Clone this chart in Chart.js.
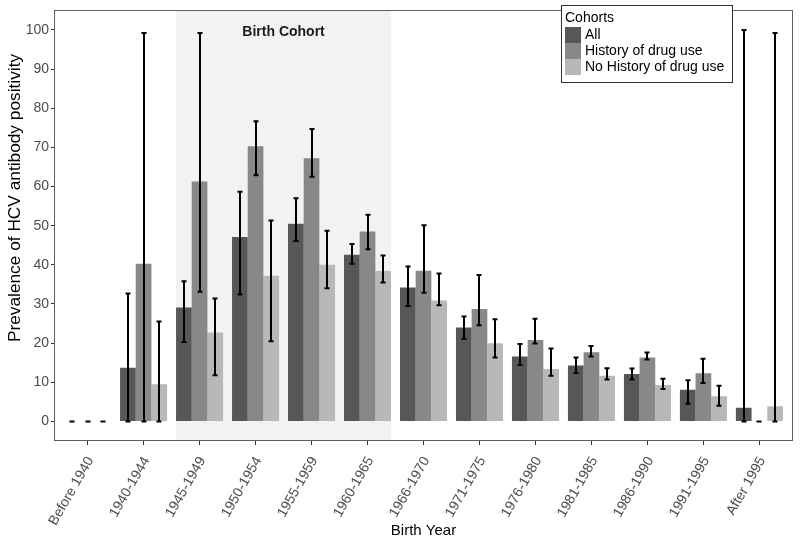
<!DOCTYPE html>
<html>
<head>
<meta charset="utf-8">
<script src="https://cdn.jsdelivr.net/npm/chart.js@4.4.1/dist/chart.umd.min.js"></script>
<style>
  html, body { margin: 0; padding: 0; background: #ffffff; }
  #wrap { width: 800px; height: 543px; }
</style>
</head>
<body>
<div id="wrap"><canvas id="c" width="800" height="543"></canvas></div>
<script>
// ---- data ----
const categories = ["Before 1940","1940-1944","1945-1949","1950-1954","1955-1959","1960-1965","1966-1970","1971-1975","1976-1980","1981-1985","1986-1990","1991-1995","After 1995"];
const seriesNames = ["All", "History of drug use", "No History of drug use"];

const allValues   = [0, 13.7, 29.1, 47.1, 50.5, 42.6, 34.2, 24.0, 16.6, 14.3, 12.1, 8.1, 3.5];
const allLow      = [0, 0,    20.3, 32.4, 46.1, 40.3, 29.5, 21.1, 14.4, 12.4, 10.7, 4.5, 0];
const allHigh     = [0, 32.7, 35.8, 58.7, 57.0, 45.3, 39.6, 26.8, 19.8, 16.3, 13.5, 10.5, 100];

const drugValues  = [0, 40.3, 61.3, 70.3, 67.2, 48.5, 38.5, 28.7, 20.8, 17.7, 16.3, 12.3, 0];
const drugLow     = [0, 0,    33.1, 62.9, 62.5, 44.0, 32.9, 24.6, 19.9, 16.6, 15.8, 9.8, 0];
const drugHigh    = [0, 99.2, 99.2, 76.7, 74.7, 52.8, 50.1, 37.4, 26.2, 19.3, 17.6, 16.0, 0];

const noDrugValues = [0, 9.5,  22.7, 37.2, 40.0, 38.4, 30.9, 20.0, 13.4, 11.7, 9.3, 6.4, 3.9];
const noDrugLow    = [0, 0,    11.8, 20.5, 34.0, 35.5, 29.7, 16.3, 11.7, 10.7, 8.3, 4.0, 0];
const noDrugHigh   = [0, 25.5, 31.4, 51.3, 48.7, 42.4, 37.8, 26.1, 18.6, 13.6, 10.9, 9.1, 99.2];

const yTickValues = [0, 10, 20, 30, 40, 50, 60, 70, 80, 90, 100];
const birthCohortFrom = "1945-1949";
const birthCohortTo = "1960-1965";
const birthCohortLabel = "Birth Cohort";
const legendTitle = "Cohorts";
const xTitle = "Birth Year";
const yTitle = "Prevalence of HCV antibody positivity";

// ---- styles ----
const colors = ["#575757", "#888888", "#b8b8b8"];
const FONT = "'Liberation Sans', Arial, Helvetica, sans-serif";
const groupFrac = 0.84;

const lows = [allLow, drugLow, noDrugLow];
const highs = [allHigh, drugHigh, noDrugHigh];
const vals = [allValues, drugValues, noDrugValues];

const datasets = vals.map((arr, k) => ({
  label: seriesNames[k],
  data: arr.map((v, i) => ({ x: i, y: v })),
  backgroundColor: colors[k],
  borderWidth: 0,
  categoryPercentage: groupFrac,
  barPercentage: 1.0
}));

const shadePlugin = {
  id: 'shade',
  beforeDatasetsDraw(chart) {
    const { ctx, chartArea, scales } = chart;
    const i0 = categories.indexOf(birthCohortFrom), i1 = categories.indexOf(birthCohortTo);
    const x0 = scales.x.getPixelForValue(i0 - groupFrac / 2);
    const x1 = scales.x.getPixelForValue(i1 + groupFrac / 2);
    ctx.save();
    ctx.fillStyle = '#f2f2f2';
    ctx.fillRect(x0, chartArea.top, x1 - x0, chartArea.bottom - chartArea.top);
    ctx.restore();
  },
  afterDatasetsDraw(chart) {
    const { ctx, scales } = chart;
    // error bars
    ctx.save();
    ctx.strokeStyle = '#000000';
    ctx.lineWidth = 2;
    chart.data.datasets.forEach((ds, k) => {
      const meta = chart.getDatasetMeta(k);
      meta.data.forEach((el, i) => {
        const x = Math.round(el.x);
        const yl = scales.y.getPixelForValue(lows[k][i]);
        const yh = scales.y.getPixelForValue(highs[k][i]);
        ctx.beginPath();
        ctx.moveTo(x, yl); ctx.lineTo(x, yh);
        ctx.moveTo(x - 2.5, yl); ctx.lineTo(x + 2.5, yl);
        ctx.moveTo(x - 2.5, yh); ctx.lineTo(x + 2.5, yh);
        ctx.stroke();
      });
    });
    ctx.restore();
    // birth cohort label
    const i0 = categories.indexOf(birthCohortFrom), i1 = categories.indexOf(birthCohortTo);
    const cx = (scales.x.getPixelForValue(i0 - groupFrac / 2) + scales.x.getPixelForValue(i1 + groupFrac / 2)) / 2;
    ctx.save();
    ctx.font = "bold 14px " + FONT;
    ctx.fillStyle = '#1a1a1a';
    ctx.textAlign = 'center';
    ctx.textBaseline = 'middle';
    ctx.fillText(birthCohortLabel, cx, scales.y.getPixelForValue(99.5));
    ctx.restore();
  },
  afterDraw(chart) {
    const { ctx, chartArea } = chart;
    ctx.save();
    // panel border
    ctx.strokeStyle = '#5e5e5e';
    ctx.lineWidth = 1;
    ctx.strokeRect(Math.round(chartArea.left) + 0.5, Math.round(chartArea.top) + 0.5,
      Math.round(chartArea.right - chartArea.left) - 1, Math.round(chartArea.bottom - chartArea.top) - 1);
    // y title
    ctx.save();
    ctx.translate(15, 198);
    ctx.rotate(-Math.PI / 2);
    ctx.font = "17.3px " + FONT;
    ctx.fillStyle = '#000000';
    ctx.textAlign = 'center';
    ctx.textBaseline = 'middle';
    ctx.fillText(yTitle, 0, 0);
    ctx.restore();
    // legend
    const lx = 561, ly = 5, lw = 171, lh = 77;
    ctx.fillStyle = '#ffffff';
    ctx.fillRect(lx, ly, lw, lh);
    ctx.strokeStyle = '#333333';
    ctx.strokeRect(lx + 0.5, ly + 0.5, lw, lh);
    ctx.fillStyle = '#000000';
    ctx.textBaseline = 'middle';
    ctx.textAlign = 'left';
    ctx.font = "14px " + FONT;
    ctx.fillText(legendTitle, lx + 4, ly + 13);
    seriesNames.forEach((name, k) => {
      const ky = ly + 22 + k * 16;
      ctx.fillStyle = colors[k];
      ctx.fillRect(lx + 4, ky, 16, 16);
      ctx.fillStyle = '#000000';
      ctx.fillText(name, lx + 24, ky + 8.5);
    });
    ctx.restore();
  }
};

new Chart(document.getElementById('c'), {
  type: 'bar',
  data: { datasets },
  options: {
    responsive: false,
    animation: false,
    devicePixelRatio: 1,
    layout: { padding: { left: 0, top: 5, right: 7, bottom: 0 } },
    plugins: { legend: { display: false }, tooltip: { enabled: false } },
    scales: {
      x: {
        type: 'linear',
        min: -0.6,
        max: categories.length - 1 + 0.6,
        offset: false,
        afterBuildTicks(scale) { scale.ticks = categories.map((c, i) => ({ value: i })); },
        afterFit(scale) { scale.height = 102; },
        ticks: {
          autoSkip: false,
          minRotation: 60,
          maxRotation: 60,
          padding: 9,
          labelOffset: 3,
          color: '#4d4d4d',
          font: { family: FONT, size: 14 },
          callback: (v) => categories[v]
        },
        grid: { offset: false, drawOnChartArea: false, drawTicks: true, tickLength: 4, color: '#333333' },
        border: { display: false },
        title: { display: true, text: xTitle, color: '#000000', font: { family: FONT, size: 15 }, padding: { top: 0, bottom: 3 } }
      },
      y: {
        type: 'linear',
        min: -5,
        max: 105,
        afterBuildTicks(scale) { scale.ticks = yTickValues.map(v => ({ value: v })); },
        afterFit(scale) { scale.width = 54; },
        ticks: { padding: 2, color: '#4d4d4d', font: { family: FONT, size: 14 } },
        grid: { drawOnChartArea: false, drawTicks: true, tickLength: 3, color: '#333333' },
        border: { display: false }
      }
    }
  },
  plugins: [shadePlugin]
});
</script>
</body>
</html>
